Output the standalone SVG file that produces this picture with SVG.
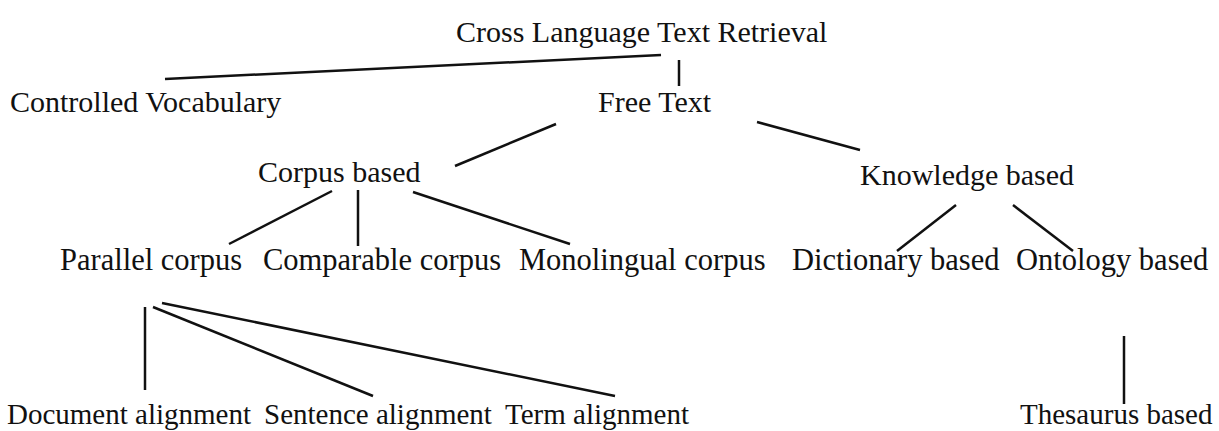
<svg xmlns="http://www.w3.org/2000/svg" width="1219" height="431" viewBox="0 0 1219 431">
<style>
  text { font-family: "Liberation Serif", "Times New Roman", serif; font-size: 30px; fill: #111; }
  .r4 { font-size: 30.5px; }
  .r5 { font-size: 29px; }
  .c line { stroke: #111; stroke-width: 2.5; stroke-linecap: butt; }
</style>
<rect width="1219" height="431" fill="#ffffff"/>
<g class="c" id="connectors">
  <line x1="165" y1="79" x2="661" y2="55"/>
  <line x1="679" y1="60" x2="679" y2="86"/>
  <line x1="556" y1="124" x2="455" y2="166"/>
  <line x1="757" y1="122" x2="860" y2="150"/>
  <line x1="332" y1="191" x2="229" y2="244"/>
  <line x1="358" y1="190" x2="358" y2="246"/>
  <line x1="413" y1="192" x2="570" y2="244"/>
  <line x1="956" y1="205" x2="897" y2="251"/>
  <line x1="1013" y1="205" x2="1073" y2="251"/>
  <line x1="145" y1="307" x2="145" y2="390"/>
  <line x1="153" y1="307" x2="373" y2="396"/>
  <line x1="162" y1="303" x2="615" y2="396"/>
  <line x1="1124" y1="336" x2="1124" y2="404"/>
</g>
<g id="n-cltr"><text x="456" y="42">Cross Language Text Retrieval</text></g>
<g id="n-controlled"><text x="10" y="112">Controlled Vocabulary</text></g>
<g id="n-free"><text x="598" y="112">Free Text</text></g>
<g id="n-corpus"><text x="258" y="182">Corpus based</text></g>
<g id="n-knowledge"><text x="860" y="185">Knowledge based</text></g>
<g id="n-parallel"><text class="r4" x="60" y="270">Parallel corpus</text></g>
<g id="n-comparable"><text class="r4" x="263" y="270">Comparable corpus</text></g>
<g id="n-monolingual"><text class="r4" x="519" y="270">Monolingual corpus</text></g>
<g id="n-dictionary"><text class="r4" x="792" y="270">Dictionary based</text></g>
<g id="n-ontology"><text class="r4" x="1016" y="270">Ontology based</text></g>
<g id="n-document"><text class="r5" x="7" y="424">Document alignment</text></g>
<g id="n-sentence"><text class="r5" x="264" y="424">Sentence alignment</text></g>
<g id="n-term"><text class="r5" x="505" y="424">Term alignment</text></g>
<g id="n-thesaurus"><text class="r5" x="1020" y="424">Thesaurus based</text></g>
</svg>
